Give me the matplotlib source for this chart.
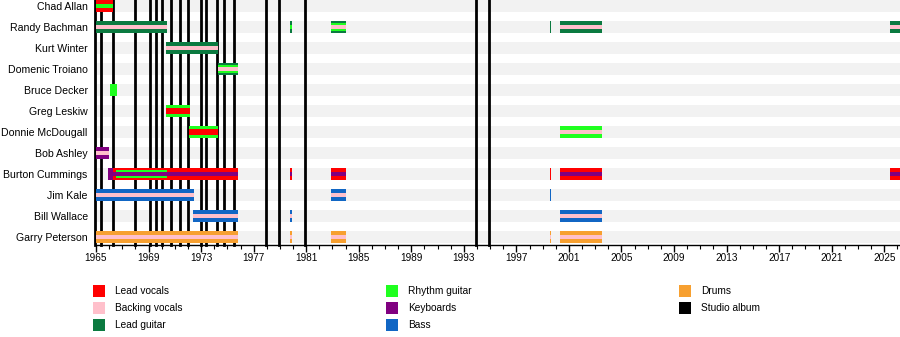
import matplotlib
matplotlib.use("Agg")
import matplotlib.pyplot as plt
from matplotlib.patches import Rectangle
from matplotlib.ticker import MultipleLocator, FixedLocator

plt.rcParams['font.family'] = ['Liberation Sans', 'DejaVu Sans']

# ---------------- data ----------------
members = ["Chad Allan", "Randy Bachman", "Kurt Winter", "Domenic Troiano",
           "Bruce Decker", "Greg Leskiw", "Donnie McDougall", "Bob Ashley",
           "Burton Cummings", "Jim Kale", "Bill Wallace", "Garry Peterson"]

role_names = ["Lead vocals", "Backing vocals", "Lead guitar", "Rhythm guitar",
              "Keyboards", "Bass", "Drums", "Studio album"]
role_colors = ["#ff0000", "#ffc0cb", "#0b7a40", "#1fff1f",
               "#800080", "#1166c4", "#f7a030", "#000000"]

period_member = [
    "Chad Allan",
    "Randy Bachman", "Randy Bachman", "Randy Bachman", "Randy Bachman",
    "Randy Bachman", "Randy Bachman",
    "Kurt Winter",
    "Domenic Troiano",
    "Bruce Decker",
    "Greg Leskiw",
    "Donnie McDougall", "Donnie McDougall",
    "Bob Ashley",
    "Burton Cummings", "Burton Cummings", "Burton Cummings", "Burton Cummings",
    "Burton Cummings", "Burton Cummings", "Burton Cummings", "Burton Cummings",
    "Burton Cummings",
    "Jim Kale", "Jim Kale", "Jim Kale",
    "Bill Wallace", "Bill Wallace", "Bill Wallace",
    "Garry Peterson", "Garry Peterson", "Garry Peterson", "Garry Peterson",
    "Garry Peterson",
]
period_start = [
    1965.0,
    1965.0, 1979.78, 1982.9, 1999.58, 2000.34, 2025.45,
    1970.33,
    1974.29,
    1966.07,
    1970.33,
    1972.08, 2000.34,
    1965.0,
    1965.92, 1966.29, 1966.52, 1970.41, 1979.78, 1982.9, 1999.58, 2000.34, 2025.45,
    1965.0, 1982.9, 1999.58,
    1972.39, 1979.78, 2000.34,
    1965.0, 1979.78, 1982.9, 1999.58, 2000.34,
]
period_end = [
    1966.29,
    1970.41, 1979.93, 1984.04, 1999.66, 2003.54, 2026.2,
    1974.29,
    1975.81,
    1966.6,
    1972.16,
    1974.29, 2003.54,
    1965.99,
    1966.29, 1966.52, 1970.41, 1975.81, 1979.93, 1984.04, 1999.66, 2003.54, 2026.2,
    1972.46, 1984.04, 1999.66,
    1975.81, 1979.93, 2003.54,
    1975.81, 1979.93, 1984.04, 1999.66, 2003.54,
]
period_roles = [
    ["Lead vocals", "Rhythm guitar"],
    ["Lead guitar", "Backing vocals"],
    ["Lead guitar", "Rhythm guitar"],
    ["Lead guitar", "Rhythm guitar", "Backing vocals"],
    ["Lead guitar"],
    ["Lead guitar", "Backing vocals"],
    ["Lead guitar", "Backing vocals"],
    ["Lead guitar", "Backing vocals"],
    ["Lead guitar", "Rhythm guitar", "Backing vocals"],
    ["Rhythm guitar"],
    ["Rhythm guitar", "Lead vocals"],
    ["Rhythm guitar", "Lead vocals"],
    ["Rhythm guitar", "Backing vocals"],
    ["Keyboards", "Backing vocals"],
    ["Keyboards"],
    ["Lead vocals", "Keyboards"],
    ["Lead vocals", "Rhythm guitar", "Keyboards"],
    ["Lead vocals", "Keyboards"],
    ["Lead vocals", "Keyboards"],
    ["Lead vocals", "Keyboards"],
    ["Lead vocals"],
    ["Lead vocals", "Keyboards"],
    ["Lead vocals", "Keyboards"],
    ["Bass", "Backing vocals"],
    ["Bass", "Backing vocals"],
    ["Bass"],
    ["Bass", "Backing vocals"],
    ["Bass", "Backing vocals"],
    ["Bass", "Backing vocals"],
    ["Drums", "Backing vocals"],
    ["Drums", "Backing vocals"],
    ["Drums", "Backing vocals"],
    ["Drums", "Backing vocals"],
    ["Drums", "Backing vocals"],
]

album_years = [1964.95, 1965.36, 1966.32, 1967.95, 1969.09, 1969.59, 1970.03,
               1970.69, 1971.40, 1972.01, 1972.97, 1973.40, 1974.19, 1974.73,
               1975.51, 1977.97, 1978.94, 1980.92, 1993.94, 1994.93]

x_start, x_end = 1965.0, 2026.2
major_ticks = list(range(1965, 2026, 4))
tick_labels = [str(y) for y in major_ticks]

# ---------------- drawing ----------------
color_of = dict(zip(role_names, role_colors))
W, H = 900, 337
fig = plt.figure(figsize=(W / 100, H / 100), dpi=100)
ax = fig.add_axes([96 / W, 1 - 245 / H, 804 / W, 245 / H])

row_px = 21.0
full_h = 12 / row_px
band_h = 12 / row_px

ax.set_xlim(x_start, x_end)
ax.set_ylim(len(members) - 1 + 8 / row_px, -6 / row_px)

ypos = {m: i for i, m in enumerate(members)}

# background bands
ax.barh(range(len(members)), [x_end - x_start] * len(members), left=x_start,
        height=band_h, color="#f2f2f2", zorder=0, linewidth=0)

# studio albums
for yr in album_years:
    ax.axvline(yr, color="black", linewidth=2.0, zorder=1, clip_on=False)

# member bars
for m, s, e, roles in zip(period_member, period_start, period_end, period_roles):
    n = len(roles)
    for k, r in enumerate(roles):
        if k == 0:
            h = full_h
        elif n == 3 and k == 1:
            h = 8 / row_px
        elif r == "Lead vocals":
            h = 6 / row_px
        else:
            h = 4 / row_px
        ax.barh(ypos[m], e - s, left=s, height=h, color=color_of[r],
                linewidth=0, zorder=2)

# axes styling
for sp in ["top", "right", "left"]:
    ax.spines[sp].set_visible(False)
ax.spines["bottom"].set_linewidth(1.0)
ax.spines["bottom"].set_zorder(3)

ax.xaxis.set_major_locator(FixedLocator(major_ticks))
ax.set_xticklabels(tick_labels, fontsize=7.2)
ax.xaxis.set_minor_locator(MultipleLocator(1))
ax.tick_params(axis="x", which="major", length=5, width=1, direction="out", pad=1)
ax.tick_params(axis="x", which="minor", length=3, width=0.8, direction="out")

ax.set_yticks(range(len(members)))
ax.set_yticklabels(members, fontsize=7.6)
ax.tick_params(axis="y", length=0, pad=6)

# legend (manual, 3 columns)
col_x = [93, 386, 679]
row_y = [291, 308, 325]
for k, (name, col) in enumerate(zip(role_names, role_colors)):
    c, r = k // 3, k % 3
    x0 = col_x[c]
    yc = row_y[r]
    fig.add_artist(Rectangle((x0 / W, 1 - (yc + 6) / H), 12 / W, 12 / H,
                             transform=fig.transFigure, color=col, linewidth=0))
    fig.text((x0 + 22) / W, 1 - yc / H, name, fontsize=7.3, va="center", ha="left")

fig.savefig("out.png", dpi=100)
